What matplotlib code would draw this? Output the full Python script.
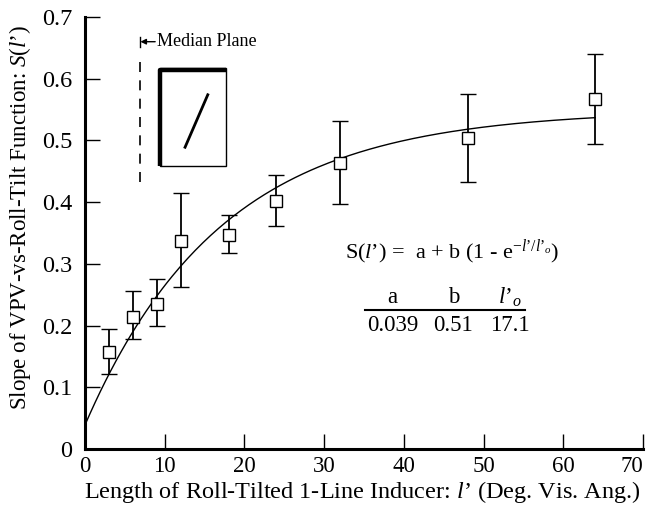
import matplotlib
matplotlib.use('Agg')
import numpy as np
import matplotlib.pyplot as plt
from matplotlib.patches import Rectangle

# ---------------------------------------------------------------------------
# Data
# ---------------------------------------------------------------------------
inducer_len = [3, 6, 9, 12, 18, 24, 32, 48, 64]
slope_mean = [0.157, 0.214, 0.235, 0.337, 0.347, 0.402, 0.463, 0.504, 0.567]
err_upper = [0.194, 0.256, 0.276, 0.415, 0.379, 0.444, 0.532, 0.576, 0.640]
err_lower = [0.122, 0.179, 0.199, 0.263, 0.318, 0.361, 0.397, 0.433, 0.495]

# fitted exponential, parameters as printed on the chart
fit_a, fit_b, fit_l0 = 0.039, 0.51, 17.1
param_names = ["a", "b", "$l\u2019_o$"]
param_values = ["0.039", "0.51", "17.1"]

x_ticks = [0, 10, 20, 30, 40, 50, 60, 70]
y_ticks = [0, 0.1, 0.2, 0.3, 0.4, 0.5, 0.6, 0.7]

plt.rcParams['font.family'] = ['Liberation Serif', 'DejaVu Serif']
plt.rcParams['mathtext.fontset'] = 'custom'
plt.rcParams['mathtext.rm'] = 'Liberation Serif'
plt.rcParams['mathtext.it'] = 'Liberation Serif:italic'

fig = plt.figure(figsize=(6.46, 5.05), dpi=100)
ax = fig.add_axes([0.1316, 0.1109, 0.8638, 0.8554])

# --- fitted curve ---
xs = np.linspace(0, inducer_len[-1], 200)
ax.plot(xs, fit_a + fit_b * (1 - np.exp(-xs / fit_l0)), color='black', lw=1.0)

# --- data with error bars ---
mean = np.array(slope_mean)
yerr = [mean - np.array(err_lower), np.array(err_upper) - mean]
ax.errorbar(inducer_len, slope_mean, yerr=yerr, fmt='s', ms=8.5,
            mfc='white', mec='black', mew=1.0, ecolor='black',
            elinewidth=1.3, capsize=6, capthick=1.3, zorder=3)

# --- axes styling ---
ax.set_xlim(0, 70)
ax.set_ylim(0, 0.7)
ax.set_xticks(x_ticks)
ax.set_yticks(y_ticks)
ax.set_xticklabels([str(t) for t in x_ticks])
ax.set_yticklabels(['0'] + [f"{t:.1f}" for t in y_ticks[1:]])
ax.get_xticklabels()[-1].set_ha('right')
for side in ('top', 'right'):
    ax.spines[side].set_visible(False)
for side in ('left', 'bottom'):
    ax.spines[side].set_linewidth(2.2)
ax.tick_params(direction='in', length=11, width=1.0, labelsize=16.5)
ax.tick_params(axis='y', pad=9, labelsize=17.5)
ax.tick_params(axis='x', pad=5)

ax.set_xlabel("Length of Roll-Tilted 1-Line Inducer: $l$\u2019 (Deg. Vis. Ang.)",
              fontsize=17.5)
ax.xaxis.set_label_coords(0.496, -0.0995)
ax.xaxis.label.set_va('center')
ax.set_ylabel("Slope of VPV-vs-Roll-Tilt Function: $S(l$\u2019$)$",
              fontsize=16.5)
ax.yaxis.set_label_coords(-0.116, 0.535)
ax.yaxis.label.set_va('center')

# --- inset: median plane & tilted-line stimulus ---
ax.plot([6.9, 6.9], [0.433, 0.64], color='black', lw=1.2, dashes=(6, 5))
ax.plot([6.9, 6.9], [0.652, 0.668], color='black', lw=1.0)
ax.annotate('', xy=(6.95, 0.66), xytext=(8.8, 0.66),
            arrowprops=dict(arrowstyle='-|>', color='black', lw=1.0,
                            mutation_scale=8, shrinkA=0, shrinkB=0))
ax.text(9.0, 0.66, 'Median Plane', fontsize=13, va='center', ha='left')

ax.add_patch(Rectangle((9.41, 0.459), 8.28, 0.158, fill=False,
                       ec='black', lw=1.0))
ax.plot([9.45, 9.45, 17.69], [0.459, 0.614, 0.614], color='black', lw=3.2,
        solid_capstyle='butt')
ax.plot([12.55, 15.4], [0.489, 0.574], color='black', lw=2.0)

# --- equation and parameter table ---
ax.text(32.6, 0.318, "S($l$\u2019) =  a + b (1 - e$^{-l\u2019/l\u2019_o}$)",
        fontsize=16, va='center', ha='left')
col_x = [38.6, 46.2, 53.3]
for cx, name, val in zip(col_x, param_names, param_values):
    ax.text(cx, 0.246, name, fontsize=16.5, ha='center', va='center')
    ax.text(cx, 0.200, val, fontsize=16.5, ha='center', va='center')
ax.plot([35.1, 55.2], [0.225, 0.225], color='black', lw=1.5)

fig.savefig('out.png', dpi=100)
